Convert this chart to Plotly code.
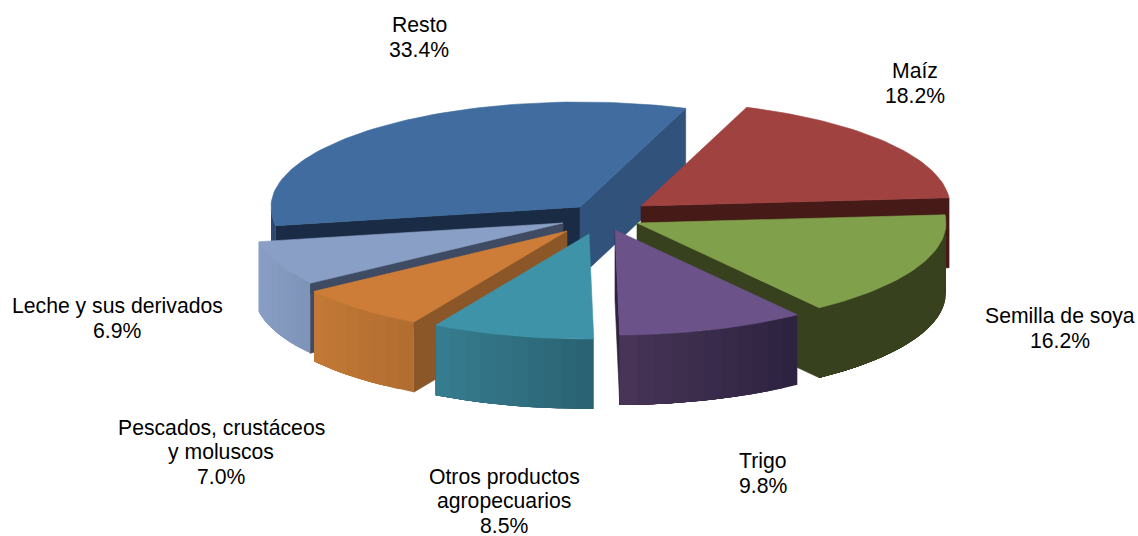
import math
import plotly.graph_objects as go

# Data
categories = ["Maíz", "Semilla de soya", "Trigo", "Otros productos\nagropecuarios",
              "Pescados, crustáceos\ny moluscos", "Leche y sus derivados", "Resto"]
shares = [18.2, 16.2, 9.8, 8.5, 7.0, 6.9, 33.4]

# Drawing style
top_colors = ["#A0423F", "#81A04B", "#6B5289", "#3F93A9", "#CD7D38", "#8A9FC5", "#406C9F"]
face_colors = ["#451A17", "#38411E", "#2E2340", "#2B6474", "#8B5628", "#3F4A63", "#31527A"]
end_face_colors = ["#451A17", "#38411E", "#2E2340", "#2B6474", "#8B5628", "#3F4A63", "#1A2C45"]
wall_from = ["#451A17", "#38411E", "#4A3659", "#377F92", "#C47A36", "#8A9FC5", "#2C4A70"]
wall_to = ["#451A17", "#38411E", "#2D2340", "#2A6373", "#B26D30", "#7E94B8", "#2C4A70"]
tip_x = [641, 637, 615, 589, 567, 563, 580]
tip_y = [206, 223, 230, 234, 231, 223, 207]
label_x = [915, 1060, 763, 504, 221, 117, 419]
label_y = [71, 316, 461, 477, 428, 306, 25]
RX, RY, DEPTH = 309, 105, 70
START_ANGLE = 20.0
LINE_STEP = 24.5
FONT = "Liberation Sans, Arial, sans-serif"
draw_order = [6, 0, 1, 5, 4, 2, 3]

traces = []


def poly(xs, ys, color, width=0.6):
    traces.append(go.Scatter(x=xs + xs[:1], y=ys + ys[:1], mode="lines", fill="toself",
                             fillcolor=color, line=dict(color=color, width=width),
                             hoverinfo="skip", showlegend=False))


def point(i, deg, drop=0):
    r = math.radians(deg)
    return tip_x[i] + RX * math.sin(r), tip_y[i] - RY * math.cos(r) + drop


def mix(c1, c2, t):
    a = [int(c1[k:k + 2], 16) for k in (1, 3, 5)]
    b = [int(c2[k:k + 2], 16) for k in (1, 3, 5)]
    return "#%02X%02X%02X" % tuple(round(p + (q - p) * t) for p, q in zip(a, b))


# angular extents derived from the shares
total = sum(shares)
starts, ends = [], []
a = START_ANGLE
for v in shares:
    starts.append(a)
    a += v / total * 360
    ends.append(a)

for i in draw_order:
    s, e = starts[i], ends[i]
    tx, ty = tip_x[i], tip_y[i]
    # cut faces
    if math.sin(math.radians(s)) < 0:
        px, py = point(i, s)
        poly([tx, px, px, tx], [ty, py, py + DEPTH, ty + DEPTH],
             face_colors[i] if i != 6 else end_face_colors[i])
    if math.sin(math.radians(e)) > 0 or (e % 360) < 90:
        px, py = point(i, e)
        poly([tx, px, px, tx], [ty, py, py + DEPTH, ty + DEPTH], face_colors[i])
    # outer wall, front half only: each strip overlaps the next one so no seams show
    w0, w1 = max(s, 90), min(e, 270)
    if w1 > w0:
        n = max(2, int((w1 - w0) / 3))
        xa, xb = point(i, w0)[0], point(i, w1)[0]
        for k in range(n):
            a0 = w0 + (w1 - w0) * k / n
            arc = [point(i, a0 + (w1 - a0) * m / 10) for m in range(11)]
            t = (xa - point(i, a0)[0]) / max(1, xa - xb)
            poly([p[0] for p in arc] + [p[0] for p in reversed(arc)],
                 [p[1] for p in arc] + [p[1] + DEPTH for p in reversed(arc)],
                 mix(wall_to[i], wall_from[i], t), width=0)
    # top face
    n = max(8, int((e - s) / 1.5))
    arc = [point(i, s + (e - s) * k / n) for k in range(n + 1)]
    poly([tx] + [p[0] for p in arc], [ty] + [p[1] for p in arc], top_colors[i])

annotations = []
for name, v, lx, ly in zip(categories, shares, label_x, label_y):
    lines = name.split("\n") + [f"{v:.1f}%"]
    for j, text in enumerate(lines):
        annotations.append(dict(x=lx, y=ly + j * LINE_STEP - 0.5, text=text, showarrow=False,
                                xanchor="center", yanchor="middle",
                                font=dict(family=FONT, size=21.2, color="#000000")))

fig = go.Figure(traces)
fig.update_layout(width=1138, height=536, margin=dict(l=0, r=0, t=0, b=0),
                  paper_bgcolor="white", plot_bgcolor="white", showlegend=False,
                  annotations=annotations,
                  xaxis=dict(range=[0, 1138], visible=False, fixedrange=True),
                  yaxis=dict(range=[536, 0], visible=False, fixedrange=True))
fig.write_html("out.html", config={"displayModeBar": False},
               post_script="document.body.style.margin='0';")
